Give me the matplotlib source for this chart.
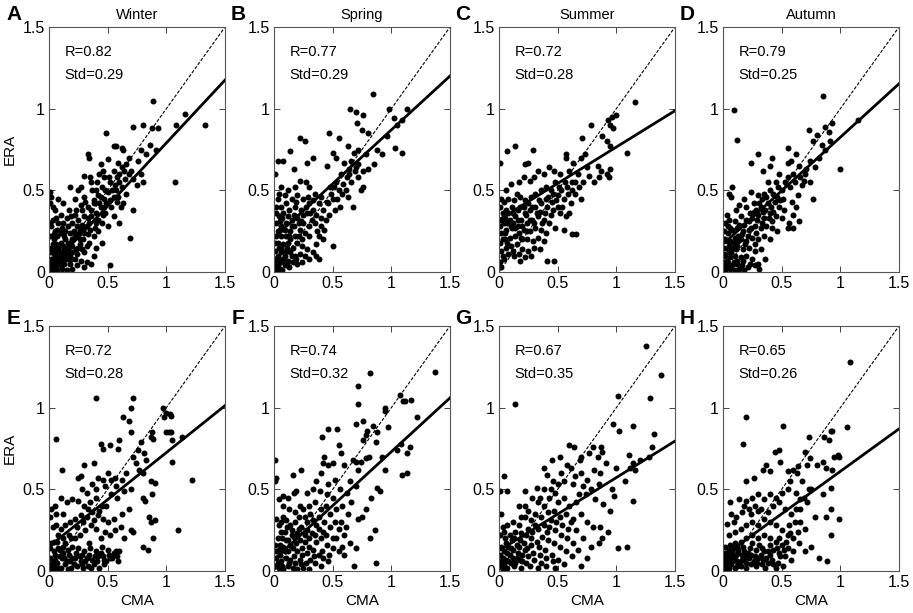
import matplotlib
matplotlib.use('Agg')
import matplotlib.pyplot as plt

plt.rcParams['font.family'] = ['Liberation Sans', 'DejaVu Sans']

# panel letters, titles, stats
letters = ['A', 'B', 'C', 'D', 'E', 'F', 'G', 'H']
seasons = ['Winter', 'Spring', 'Summer', 'Autumn']
r_vals = [0.82, 0.77, 0.72, 0.79, 0.72, 0.74, 0.67, 0.65]
std_vals = [0.29, 0.29, 0.28, 0.25, 0.28, 0.32, 0.35, 0.26]
# fitted line: intercept, slope
fit_b = [0.02, 0.21, 0.32, 0.17, 0.15, 0.07, 0.125, 0.09]
fit_k = [0.77, 0.66, 0.445, 0.655, 0.575, 0.66, 0.447, 0.52]

# (CMA, ERA) pairs
winter_top = [(1.33,0.90),(1.16,0.97),(1.08,0.90),(1.07,0.55),(0.89,1.05),(0.93,0.88),(0.88,0.88),(0.80,0.90),(0.72,0.89),(0.49,0.85),
    (0.55,0.77),(0.57,0.77),(0.62,0.76),(0.63,0.75),(0.33,0.72),(0.34,0.70),(0.78,0.75),(0.86,0.78),(0.91,0.75),(0.83,0.72),
    (0.76,0.68),(0.68,0.70),(0.66,0.66),(0.59,0.67),(0.62,0.64),(0.50,0.69),(0.44,0.66),(0.46,0.62),(0.55,0.62),(0.58,0.58),
    (0.60,0.60),(0.70,0.62),(0.72,0.57),(0.78,0.60),(0.75,0.53),(0.80,0.55),(0.72,0.38),(0.69,0.21),(0.52,0.045),(0.66,0.48),
    (0.63,0.42),(0.57,0.50),(0.52,0.55),(0.50,0.49),(0.47,0.45),(0.45,0.52),(0.42,0.47),(0.40,0.50),(0.38,0.44),(0.36,0.55),
    (0.35,0.58),(0.30,0.59),(0.27,0.52),(0.25,0.50),(0.18,0.52),(0.22,0.45),(0.30,0.46),(0.33,0.40),(0.36,0.38),(0.40,0.36),
    (0.44,0.40),(0.48,0.36),(0.55,0.34),(0.60,0.30),(0.50,0.28),(0.45,0.30),(0.42,0.25),(0.38,0.22),(0.34,0.30),(0.30,0.34),
    (0.28,0.38),(0.25,0.32),(0.22,0.35),(0.20,0.30),(0.17,0.38),(0.15,0.33),(0.12,0.30),(0.10,0.35),(0.08,0.30),(0.06,0.33),
    (0.03,0.32),(0.01,0.49),(0.02,0.46),(0.01,0.42),(0.03,0.40),(0.05,0.38),(0.02,0.28),(0.01,0.22),(0.04,0.20),(0.07,0.22),
    (0.10,0.24),(0.14,0.25),(0.18,0.24),(0.22,0.22),(0.26,0.20),(0.30,0.24),(0.34,0.18),(0.40,0.15),(0.45,0.18),(0.38,0.10),
    (0.30,0.12),(0.25,0.15),(0.20,0.16),(0.16,0.18),(0.12,0.16),(0.08,0.15),(0.04,0.14),(0.01,0.12),(0.02,0.08),(0.05,0.08),
    (0.08,0.09),(0.11,0.10),(0.14,0.11),(0.18,0.10),(0.22,0.08),(0.27,0.07),(0.32,0.06),(0.36,0.05),(0.30,0.03),(0.24,0.04),
    (0.18,0.05),(0.13,0.05),(0.09,0.04),(0.05,0.03),(0.02,0.02),(0.01,0.05),(0.03,0.01),(0.07,0.01),(0.11,0.02),(0.15,0.01),
    (0.20,0.02),(0.04,0.11),(0.06,0.06),(0.10,0.07),(0.15,0.08),(0.12,0.13),(0.16,0.14),(0.20,0.12),(0.24,0.11),(0.28,0.14),
    (0.32,0.16),(0.26,0.26),(0.28,0.29),(0.32,0.28),(0.36,0.34),(0.40,0.30),(0.43,0.42),(0.47,0.40),(0.52,0.44),(0.55,0.46),
    (0.58,0.43),(0.62,0.52),(0.65,0.57),(0.68,0.60),(0.38,0.42),(0.24,0.28),(0.20,0.20),(0.14,0.20),(0.10,0.18),(0.06,0.17),
    (0.09,0.12),(0.03,0.17),(0.01,0.30),(0.05,0.25),(0.12,0.42),(0.08,0.45),
    (0.05,0.05),(0.07,0.10),(0.09,0.07),(0.13,0.08),(0.17,0.12),(0.19,0.08),(0.23,0.14),(0.26,0.17),(0.29,0.20),(0.33,0.23),
    (0.35,0.26),(0.39,0.27),(0.42,0.32),(0.46,0.35),(0.49,0.42),(0.53,0.40),(0.56,0.53),(0.60,0.55),(0.64,0.62),(0.41,0.55),
    (0.37,0.50),(0.31,0.43),(0.27,0.41),(0.23,0.38),(0.19,0.34),(0.16,0.28),(0.13,0.22),(0.11,0.27),(0.07,0.26),(0.04,0.23),
    (0.02,0.15),(0.06,0.12),(0.03,0.06),(0.14,0.15),(0.18,0.18),(0.21,0.25),(0.25,0.23),(0.29,0.27),(0.33,0.33),(0.44,0.46),
    (0.48,0.50),(0.51,0.58),(0.54,0.50),(0.59,0.46),(0.61,0.40),(0.47,0.58),(0.43,0.60)]

spring_top = [(0.84,1.09),(0.65,1.00),(0.70,0.98),(0.76,0.96),(0.71,0.91),(0.75,0.87),(0.80,0.85),(0.98,1.00),(1.13,1.00),(1.02,0.94),
    (1.09,0.93),(1.05,0.90),(0.96,0.83),(1.03,0.76),(1.09,0.73),(0.22,0.82),(0.26,0.80),(0.47,0.85),(0.55,0.82),(0.14,0.74),
    (0.03,0.68),(0.08,0.68),(0.17,0.63),(0.33,0.70),(0.28,0.67),(0.50,0.73),(0.53,0.70),(0.45,0.65),(0.63,0.77),(0.68,0.73),
    (0.72,0.75),(0.78,0.72),(0.88,0.75),(0.92,0.72),(0.85,0.66),(0.80,0.63),(0.72,0.66),(0.64,0.63),(0.60,0.67),(0.57,0.60),
    (0.66,0.55),(0.72,0.58),(0.76,0.52),(0.74,0.50),(0.63,0.46),(0.67,0.40),(0.55,0.50),(0.53,0.55),(0.48,0.52),(0.50,0.45),
    (0.45,0.43),(0.56,0.40),(0.47,0.35),(0.42,0.38),(0.38,0.42),(0.35,0.48),(0.30,0.52),(0.27,0.55),(0.22,0.56),(0.18,0.52),
    (0.12,0.50),(0.04,0.48),(0.03,0.45),(0.01,0.60),(0.02,0.40),(0.06,0.40),(0.10,0.42),(0.15,0.45),(0.20,0.47),(0.25,0.45),
    (0.30,0.42),(0.33,0.38),(0.28,0.36),(0.23,0.38),(0.18,0.40),(0.13,0.38),(0.08,0.36),(0.04,0.34),(0.02,0.30),(0.06,0.28),
    (0.10,0.30),(0.15,0.32),(0.20,0.33),(0.25,0.30),(0.30,0.28),(0.35,0.30),(0.40,0.28),(0.38,0.22),(0.42,0.20),(0.36,0.17),
    (0.30,0.22),(0.26,0.24),(0.22,0.26),(0.18,0.22),(0.14,0.25),(0.10,0.22),(0.06,0.22),(0.02,0.22),(0.01,0.18),(0.04,0.15),
    (0.08,0.17),(0.12,0.18),(0.16,0.15),(0.20,0.18),(0.24,0.16),(0.28,0.14),(0.33,0.12),(0.36,0.10),(0.38,0.08),(0.50,0.16),
    (0.30,0.08),(0.26,0.10),(0.22,0.11),(0.18,0.10),(0.14,0.12),(0.10,0.13),(0.06,0.12),(0.03,0.10),(0.01,0.08),(0.02,0.05),
    (0.05,0.06),(0.08,0.08),(0.12,0.07),(0.16,0.06),(0.20,0.05),(0.24,0.06),(0.13,0.03),(0.09,0.04),(0.05,0.02),(0.02,0.01),
    (0.01,0.03),(0.07,0.01),(0.03,0.25),(0.05,0.31),(0.09,0.26),(0.12,0.34),(0.17,0.28),(0.21,0.30),(0.14,0.20),(0.44,0.32),
    (0.52,0.38),(0.58,0.48),(0.62,0.58),(0.69,0.62),(0.40,0.46),(0.36,0.35),(0.32,0.32),
    (0.03,0.04),(0.04,0.08),(0.06,0.15),(0.03,0.18),(0.05,0.26),(0.07,0.33),(0.09,0.10),(0.11,0.15),(0.13,0.22),(0.15,0.28),
    (0.17,0.35),(0.19,0.43),(0.21,0.22),(0.23,0.31),(0.25,0.35),(0.27,0.40),(0.29,0.46),(0.31,0.36),(0.33,0.44),(0.37,0.25),
    (0.40,0.33),(0.43,0.26),(0.46,0.42),(0.49,0.48),(0.51,0.52),(0.54,0.45),(0.59,0.54),(0.61,0.50),(0.64,0.60),(0.66,0.68),
    (0.70,0.64),(0.76,0.62),(0.19,0.08),(0.15,0.10),(0.11,0.05),(0.07,0.07),(0.24,0.20),(0.02,0.36),(0.01,0.13),(0.09,0.47),
    (0.06,0.52)]

summer_top = [(1.16,1.04),(0.96,0.95),(1.00,0.96),(0.93,0.93),(0.95,0.90),(0.97,0.88),(0.78,0.90),(0.71,0.82),(0.88,0.83),(0.92,0.80),
    (0.95,0.77),(1.09,0.73),(0.14,0.77),(0.29,0.75),(0.07,0.74),(0.01,0.67),(0.25,0.67),(0.22,0.66),(0.57,0.72),(0.57,0.70),
    (0.63,0.67),(0.70,0.70),(0.73,0.72),(0.75,0.64),(0.84,0.65),(0.87,0.62),(0.92,0.60),(0.95,0.63),(0.94,0.58),(0.81,0.55),
    (0.85,0.58),(0.77,0.59),(0.67,0.60),(0.62,0.55),(0.58,0.52),(0.60,0.62),(0.52,0.60),(0.47,0.62),(0.43,0.64),(0.38,0.60),
    (0.33,0.62),(0.30,0.58),(0.26,0.56),(0.21,0.58),(0.17,0.55),(0.10,0.54),(0.65,0.48),(0.70,0.45),(0.61,0.42),(0.55,0.45),
    (0.50,0.47),(0.44,0.50),(0.40,0.52),(0.36,0.50),(0.31,0.48),(0.27,0.46),(0.22,0.44),(0.18,0.46),(0.13,0.44),(0.08,0.45),
    (0.04,0.43),(0.01,0.40),(0.03,0.36),(0.06,0.38),(0.11,0.40),(0.16,0.38),(0.21,0.40),(0.26,0.38),(0.31,0.40),(0.36,0.42),
    (0.41,0.40),(0.46,0.38),(0.52,0.36),(0.57,0.34),(0.60,0.36),(0.62,0.23),(0.66,0.23),(0.55,0.26),(0.48,0.27),(0.47,0.07),
    (0.41,0.07),(0.43,0.30),(0.38,0.32),(0.33,0.34),(0.28,0.32),(0.24,0.30),(0.19,0.32),(0.14,0.34),(0.09,0.32),(0.04,0.30),
    (0.01,0.28),(0.02,0.24),(0.06,0.26),(0.11,0.27),(0.16,0.28),(0.21,0.26),(0.26,0.25),(0.31,0.27),(0.36,0.26),(0.40,0.24),
    (0.38,0.19),(0.33,0.21),(0.29,0.19),(0.24,0.20),(0.19,0.21),(0.14,0.22),(0.09,0.21),(0.05,0.20),(0.01,0.18),(0.02,0.13),
    (0.06,0.15),(0.10,0.16),(0.15,0.17),(0.20,0.14),(0.25,0.13),(0.30,0.15),(0.35,0.14),(0.27,0.10),(0.22,0.09),(0.18,0.07),
    (0.13,0.10),(0.08,0.11),(0.04,0.08),(0.01,0.06),(0.02,0.03),(0.05,0.33),(0.12,0.30),(0.17,0.24),(0.23,0.35),(0.35,0.37),
    (0.45,0.43),(0.50,0.40),(0.53,0.50),(0.48,0.55),(0.40,0.45),(0.25,0.42),
    (0.02,0.32),(0.03,0.20),(0.05,0.24),(0.07,0.30),(0.08,0.36),(0.10,0.28),(0.12,0.36),(0.14,0.27),(0.16,0.32),(0.18,0.40),
    (0.20,0.28),(0.22,0.36),(0.24,0.25),(0.26,0.32),(0.28,0.40),(0.30,0.30),(0.32,0.36),(0.34,0.44),(0.37,0.30),(0.39,0.36),
    (0.42,0.46),(0.44,0.35),(0.46,0.48),(0.49,0.44),(0.51,0.52),(0.54,0.40),(0.56,0.55),(0.59,0.48),(0.62,0.50),(0.65,0.55),
    (0.68,0.52),(0.72,0.55),(0.07,0.18),(0.12,0.13),(0.17,0.11),(0.20,0.20),(0.03,0.10),(0.15,0.48),(0.06,0.50),(0.02,0.45)]

autumn_top = [(0.85,1.08),(0.09,0.99),(0.12,0.81),(1.15,0.93),(1.00,0.63),(0.73,0.87),(0.87,0.89),(0.93,0.91),(0.90,0.86),(0.80,0.84),
    (0.77,0.80),(0.84,0.78),(0.91,0.80),(0.87,0.75),(0.82,0.70),(0.78,0.64),(0.74,0.68),(0.65,0.65),(0.55,0.76),(0.62,0.72),
    (0.42,0.70),(0.30,0.72),(0.24,0.67),(0.34,0.62),(0.40,0.65),(0.55,0.67),(0.58,0.68),(0.48,0.60),(0.55,0.58),(0.60,0.60),
    (0.70,0.60),(0.74,0.55),(0.67,0.53),(0.64,0.47),(0.77,0.45),(0.62,0.40),(0.60,0.35),(0.56,0.30),(0.60,0.27),(0.65,0.31),
    (0.55,0.27),(0.50,0.50),(0.45,0.55),(0.40,0.50),(0.35,0.48),(0.30,0.47),(0.24,0.49),(0.18,0.45),(0.08,0.52),(0.05,0.48),
    (0.07,0.46),(0.14,0.41),(0.20,0.40),(0.26,0.42),(0.32,0.40),(0.38,0.42),(0.44,0.43),(0.48,0.40),(0.52,0.38),(0.45,0.34),
    (0.40,0.36),(0.35,0.33),(0.30,0.35),(0.25,0.33),(0.20,0.32),(0.15,0.34),(0.10,0.31),(0.05,0.32),(0.02,0.30),(0.01,0.25),
    (0.04,0.24),(0.08,0.26),(0.12,0.27),(0.17,0.25),(0.22,0.26),(0.27,0.28),(0.32,0.27),(0.37,0.28),(0.42,0.27),(0.46,0.25),
    (0.40,0.20),(0.35,0.22),(0.30,0.20),(0.25,0.21),(0.20,0.19),(0.15,0.20),(0.10,0.21),(0.06,0.19),(0.02,0.20),(0.01,0.15),
    (0.04,0.14),(0.08,0.15),(0.12,0.16),(0.17,0.14),(0.22,0.15),(0.27,0.13),(0.32,0.14),(0.36,0.08),(0.30,0.05),(0.25,0.08),
    (0.20,0.10),(0.15,0.09),(0.10,0.10),(0.06,0.09),(0.02,0.10),(0.01,0.06),(0.04,0.05),(0.08,0.04),(0.12,0.05),(0.16,0.04),
    (0.21,0.03),(0.27,0.04),(0.31,0.02),(0.02,0.01),(0.06,0.02),(0.10,0.01),(0.14,0.02),(0.18,0.01),(0.03,0.03),(0.05,0.12),
    (0.09,0.18),(0.13,0.22),(0.18,0.29),(0.23,0.36),(0.28,0.38),(0.33,0.45),(0.38,0.55),(0.43,0.48),(0.36,0.38),(0.42,0.31),
    (0.50,0.33),(0.27,0.17),(0.11,0.38),(0.03,0.35),
    (0.02,0.03),(0.03,0.07),(0.05,0.16),(0.03,0.19),(0.06,0.27),(0.07,0.12),(0.09,0.06),(0.11,0.14),(0.13,0.19),(0.14,0.29),
    (0.16,0.23),(0.19,0.17),(0.21,0.22),(0.22,0.31),(0.24,0.27),(0.26,0.37),(0.28,0.24),(0.29,0.32),(0.31,0.42),(0.33,0.30),
    (0.34,0.37),(0.37,0.46),(0.39,0.33),(0.41,0.40),(0.43,0.37),(0.46,0.46),(0.47,0.52),(0.49,0.44),(0.51,0.45),(0.53,0.55),
    (0.57,0.52),(0.59,0.43),(0.61,0.55),(0.66,0.58),(0.69,0.56),(0.71,0.63),(0.12,0.07),(0.17,0.07),(0.23,0.05),(0.01,0.11),
    (0.01,0.20),(0.04,0.28)]

winter_bot = [(0.40,1.06),(0.72,1.06),(0.70,1.00),(0.63,0.94),(0.68,0.92),(0.97,1.00),(1.00,0.97),(1.03,0.96),(1.04,0.95),(0.98,0.94),
    (1.02,0.85),(1.00,0.85),(1.04,0.85),(0.70,0.85),(0.88,0.85),(0.87,0.82),(0.89,0.81),(1.05,0.80),(1.13,0.82),(0.78,0.79),
    (1.05,0.67),(1.22,0.56),(1.10,0.25),(0.06,0.81),(0.11,0.62),(0.44,0.78),(0.52,0.77),(0.60,0.80),(0.59,0.75),(0.46,0.75),
    (0.38,0.66),(0.30,0.65),(0.72,0.70),(0.76,0.74),(0.81,0.72),(0.83,0.68),(0.77,0.62),(0.80,0.60),(0.74,0.66),(0.66,0.60),
    (0.62,0.56),(0.56,0.57),(0.50,0.60),(0.46,0.56),(0.42,0.57),(0.37,0.53),(0.27,0.58),(0.25,0.57),(0.28,0.50),(0.32,0.48),
    (0.40,0.50),(0.48,0.52),(0.53,0.47),(0.57,0.52),(0.64,0.49),(0.70,0.50),(0.80,0.45),(0.82,0.43),(0.87,0.55),(0.90,0.54),
    (0.88,0.47),(0.85,0.33),(0.87,0.30),(0.90,0.31),(0.84,0.13),(0.80,0.15),(0.89,0.20),(0.70,0.25),(0.72,0.24),(0.64,0.20),
    (0.61,0.27),(0.56,0.25),(0.52,0.22),(0.50,0.30),(0.55,0.32),(0.62,0.35),(0.68,0.38),(0.45,0.40),(0.40,0.45),(0.35,0.42),
    (0.30,0.40),(0.25,0.43),(0.20,0.44),(0.15,0.42),(0.10,0.45),(0.05,0.40),(0.02,0.38),(0.01,0.33),(0.03,0.27),(0.06,0.28),
    (0.10,0.26),(0.14,0.28),(0.18,0.30),(0.22,0.32),(0.27,0.34),(0.32,0.33),(0.37,0.36),(0.42,0.34),(0.46,0.32),(0.40,0.26),
    (0.36,0.28),(0.31,0.25),(0.26,0.22),(0.22,0.20),(0.17,0.22),(0.12,0.20),(0.07,0.18),(0.02,0.17),(0.01,0.14),(0.04,0.12),
    (0.08,0.14),(0.12,0.15),(0.16,0.13),(0.20,0.15),(0.25,0.14),(0.30,0.12),(0.35,0.14),(0.40,0.12),(0.45,0.15),(0.50,0.13),
    (0.55,0.11),(0.58,0.09),(0.60,0.12),(0.52,0.08),(0.47,0.07),(0.42,0.09),(0.37,0.07),(0.32,0.08),(0.27,0.06),(0.22,0.08),
    (0.18,0.06),(0.13,0.08),(0.09,0.09),(0.05,0.07),(0.01,0.08),(0.02,0.04),(0.06,0.03),(0.10,0.02),(0.14,0.04),(0.19,0.02),
    (0.24,0.03),(0.29,0.02),(0.33,0.03),(0.38,0.04),(0.43,0.02),(0.47,0.04),(0.03,0.01),(0.01,0.02),(0.08,0.01),(0.16,0.01),
    (0.28,0.10),(0.34,0.17),(0.44,0.20),(0.48,0.24),
    (0.03,0.06),(0.05,0.10),(0.07,0.05),(0.09,0.13),(0.11,0.08),(0.12,0.11),(0.15,0.06),(0.17,0.10),(0.20,0.08),(0.21,0.04),
    (0.23,0.11),(0.26,0.09),(0.28,0.04),(0.31,0.06),(0.34,0.10),(0.36,0.02),(0.39,0.09),(0.41,0.06),(0.44,0.11),(0.46,0.09),
    (0.49,0.06),(0.51,0.10),(0.54,0.08),(0.57,0.12),(0.59,0.06),(0.04,0.18),(0.08,0.22),(0.14,0.17),(0.19,0.20),(0.24,0.27),
    (0.29,0.30),(0.33,0.38),(0.38,0.31),(0.43,0.37),(0.49,0.40),(0.53,0.56),(0.58,0.45),(0.06,0.35),(0.12,0.35)]

spring_bot = [(1.37,1.22),(0.82,1.21),(0.72,1.13),(1.07,1.08),(1.10,1.04),(1.12,1.04),(1.17,1.05),(0.72,1.02),(0.95,1.00),(0.95,0.98),
    (0.97,0.88),(1.22,0.94),(0.76,0.92),(0.70,0.90),(0.79,0.86),(0.84,0.89),(0.88,0.85),(0.78,0.83),(0.76,0.80),(0.87,0.79),
    (0.54,0.87),(0.46,0.87),(0.41,0.82),(0.55,0.77),(0.57,0.72),(0.43,0.70),(0.50,0.66),(0.46,0.65),(0.42,0.66),(0.60,0.65),
    (0.67,0.68),(0.70,0.67),(0.74,0.67),(0.72,0.62),(0.78,0.69),(0.81,0.70),(0.92,0.70),(1.08,0.78),(1.13,0.72),(1.16,0.76),
    (1.05,0.74),(1.13,0.60),(1.09,0.59),(0.95,0.62),(0.01,0.68),(0.02,0.57),(0.01,0.55),(0.08,0.46),(0.16,0.59),(0.23,0.62),
    (0.19,0.49),(0.17,0.48),(0.28,0.48),(0.33,0.50),(0.36,0.55),(0.40,0.60),(0.46,0.53),(0.52,0.56),(0.56,0.50),(0.62,0.48),
    (0.65,0.55),(0.70,0.52),(0.88,0.51),(0.90,0.49),(0.83,0.45),(0.78,0.38),(0.72,0.32),(0.75,0.33),(0.82,0.20),(0.86,0.25),
    (0.87,0.05),(0.68,0.03),(0.70,0.14),(0.65,0.17),(0.60,0.22),(0.55,0.26),(0.52,0.30),(0.48,0.35),(0.44,0.40),(0.40,0.38),
    (0.35,0.42),(0.30,0.40),(0.25,0.38),(0.22,0.40),(0.18,0.36),(0.13,0.38),(0.08,0.40),(0.04,0.44),(0.02,0.32),(0.06,0.30),
    (0.10,0.31),(0.14,0.28),(0.18,0.30),(0.23,0.27),(0.28,0.30),(0.33,0.31),(0.38,0.33),(0.43,0.30),(0.48,0.27),(0.53,0.20),
    (0.58,0.15),(0.60,0.10),(0.55,0.12),(0.50,0.14),(0.45,0.16),(0.40,0.20),(0.35,0.22),(0.30,0.20),(0.26,0.22),(0.22,0.19),
    (0.17,0.21),(0.12,0.19),(0.07,0.20),(0.03,0.20),(0.01,0.16),(0.04,0.13),(0.08,0.15),(0.12,0.12),(0.16,0.14),(0.20,0.12),
    (0.24,0.14),(0.28,0.11),(0.33,0.13),(0.38,0.10),(0.42,0.08),(0.46,0.06),(0.40,0.03),(0.35,0.05),(0.31,0.07),(0.27,0.05),
    (0.22,0.07),(0.18,0.05),(0.14,0.07),(0.10,0.08),(0.06,0.06),(0.02,0.08),(0.01,0.03),(0.04,0.02),(0.08,0.01),(0.12,0.03),
    (0.16,0.02),(0.20,0.01),(0.25,0.02),(0.30,0.01),(0.05,0.10),(0.09,0.24),(0.15,0.25),(0.20,0.23),(0.26,0.33),(0.36,0.28),
    (0.42,0.24),(0.50,0.45),(0.58,0.40),(0.63,0.35),(0.66,0.42),
    (0.02,0.12),(0.03,0.05),(0.05,0.16),(0.06,0.24),(0.07,0.03),(0.09,0.12),(0.10,0.19),(0.11,0.27),(0.13,0.05),(0.14,0.16),
    (0.15,0.22),(0.17,0.09),(0.19,0.17),(0.21,0.26),(0.23,0.04),(0.24,0.10),(0.26,0.18),(0.28,0.25),(0.30,0.15),(0.32,0.23),
    (0.34,0.09),(0.36,0.18),(0.38,0.26),(0.41,0.12),(0.44,0.22),(0.47,0.10),(0.50,0.20),(0.53,0.38),(0.57,0.30),(0.61,0.27),
    (0.45,0.47),(0.39,0.49),(0.31,0.35),(0.21,0.33),(0.04,0.28),(0.08,0.33),(0.12,0.45)]

summer_bot = [(1.25,1.38),(1.38,1.20),(0.14,1.02),(1.01,1.07),(1.29,1.06),(0.97,0.90),(1.02,0.86),(1.14,0.89),(1.32,0.84),(1.30,0.76),
    (0.60,0.77),(0.64,0.76),(0.80,0.76),(0.87,0.76),(0.88,0.73),(0.84,0.70),(0.77,0.72),(0.70,0.70),(0.52,0.70),(0.45,0.68),
    (0.38,0.63),(0.41,0.59),(0.58,0.65),(0.61,0.63),(0.69,0.68),(0.91,0.66),(1.00,0.63),(1.11,0.71),(1.12,0.63),(1.07,0.55),
    (1.14,0.66),(1.16,0.62),(1.28,0.70),(1.20,0.68),(1.14,0.43),(0.96,0.50),(0.98,0.46),(0.86,0.60),(0.75,0.56),(0.70,0.60),
    (0.65,0.58),(0.78,0.50),(0.74,0.47),(0.82,0.44),(0.89,0.41),(0.95,0.37),(0.63,0.53),(0.55,0.55),(0.50,0.53),(0.48,0.48),
    (0.44,0.50),(0.38,0.50),(0.32,0.51),(0.22,0.49),(0.04,0.58),(0.01,0.49),(0.07,0.49),(0.17,0.40),(0.22,0.40),(0.28,0.45),
    (0.33,0.42),(0.38,0.40),(0.43,0.45),(0.50,0.42),(0.55,0.45),(0.60,0.40),(0.66,0.42),(0.70,0.35),(0.75,0.30),(0.80,0.27),
    (0.86,0.27),(0.93,0.24),(0.88,0.20),(0.85,0.17),(1.01,0.14),(1.09,0.15),(0.70,0.03),(0.75,0.08),(0.78,0.15),(0.72,0.20),
    (0.66,0.25),(0.61,0.30),(0.57,0.35),(0.52,0.33),(0.47,0.37),(0.42,0.36),(0.36,0.33),(0.31,0.35),(0.27,0.31),(0.22,0.33),
    (0.17,0.28),(0.12,0.30),(0.07,0.28),(0.03,0.27),(0.01,0.22),(0.05,0.20),(0.09,0.22),(0.13,0.20),(0.18,0.19),(0.23,0.22),
    (0.28,0.24),(0.33,0.26),(0.38,0.28),(0.43,0.27),(0.48,0.25),(0.53,0.22),(0.58,0.20),(0.63,0.17),(0.67,0.13),(0.62,0.09),
    (0.57,0.12),(0.52,0.15),(0.47,0.17),(0.42,0.19),(0.37,0.21),(0.32,0.18),(0.27,0.16),(0.22,0.13),(0.17,0.15),(0.12,0.13),
    (0.08,0.15),(0.04,0.12),(0.01,0.10),(0.02,0.06),(0.06,0.07),(0.10,0.05),(0.15,0.08),(0.20,0.06),(0.25,0.09),(0.30,0.07),
    (0.35,0.10),(0.40,0.08),(0.45,0.10),(0.50,0.07),(0.55,0.04),(0.48,0.02),(0.40,0.03),(0.33,0.02),(0.26,0.03),(0.19,0.02),
    (0.13,0.03),(0.07,0.02),(0.03,0.01),(0.01,0.03),(0.04,0.04),(0.09,0.10),(0.14,0.24),(0.19,0.33),(0.25,0.37),(0.35,0.45),
    (0.46,0.55),(0.53,0.60),
    (0.02,0.15),(0.03,0.08),(0.05,0.02),(0.06,0.17),(0.07,0.11),(0.08,0.06),(0.10,0.14),(0.11,0.19),(0.12,0.08),(0.14,0.05),
    (0.15,0.16),(0.16,0.11),(0.18,0.07),(0.19,0.23),(0.20,0.10),(0.21,0.17),(0.23,0.05),(0.24,0.14),(0.25,0.26),(0.27,0.20),
    (0.29,0.11),(0.31,0.28),(0.34,0.15),(0.36,0.05),(0.39,0.13),(0.41,0.24),(0.44,0.31),(0.46,0.06),(0.49,0.30),(0.54,0.28),
    (0.59,0.26),(0.63,0.32),(0.68,0.47),(0.72,0.52),(0.81,0.62),(0.85,0.53),(0.04,0.24),(0.02,0.35)]

autumn_bot = [(1.08,1.28),(0.20,0.94),(0.51,0.89),(1.06,0.88),(0.17,0.78),(0.73,0.82),(0.86,0.82),(0.92,0.86),(0.93,0.86),(0.90,0.80),
    (0.48,0.74),(0.44,0.73),(0.70,0.73),(0.74,0.69),(0.98,0.71),(0.99,0.70),(0.95,0.70),(0.85,0.67),(0.88,0.63),(0.93,0.62),
    (0.80,0.65),(0.72,0.65),(0.64,0.64),(0.55,0.61),(0.60,0.62),(0.49,0.67),(0.37,0.65),(0.34,0.62),(0.40,0.61),(0.26,0.57),
    (0.20,0.55),(0.57,0.55),(0.63,0.60),(0.67,0.55),(0.73,0.50),(0.75,0.50),(0.92,0.51),(0.85,0.47),(0.72,0.42),(0.66,0.44),
    (0.62,0.48),(0.55,0.50),(0.50,0.48),(0.45,0.45),(0.40,0.47),(0.35,0.44),(0.30,0.47),(0.25,0.45),(0.20,0.43),(0.14,0.44),
    (0.06,0.42),(0.03,0.29),(0.07,0.35),(0.11,0.33),(0.16,0.36),(0.22,0.38),(0.27,0.40),(0.32,0.38),(0.38,0.36),(0.43,0.40),
    (0.48,0.42),(0.53,0.38),(0.58,0.35),(0.62,0.38),(0.66,0.30),(0.70,0.26),(0.78,0.33),(0.88,0.33),(0.92,0.38),(0.99,0.32),
    (0.92,0.22),(0.89,0.06),(0.82,0.08),(0.75,0.15),(0.70,0.12),(0.65,0.17),(0.60,0.20),(0.55,0.22),(0.50,0.25),(0.45,0.28),
    (0.40,0.30),(0.35,0.32),(0.30,0.28),(0.25,0.30),(0.20,0.28),(0.15,0.26),(0.10,0.24),(0.05,0.22),(0.02,0.15),(0.06,0.16),
    (0.10,0.17),(0.15,0.18),(0.20,0.20),(0.25,0.22),(0.30,0.20),(0.35,0.22),(0.40,0.20),(0.45,0.18),(0.50,0.16),(0.55,0.14),
    (0.60,0.12),(0.58,0.07),(0.53,0.09),(0.48,0.11),(0.43,0.13),(0.38,0.12),(0.33,0.14),(0.28,0.13),(0.23,0.14),(0.18,0.12),
    (0.13,0.11),(0.08,0.12),(0.04,0.10),(0.01,0.08),(0.02,0.05),(0.06,0.06),(0.10,0.07),(0.14,0.05),(0.18,0.07),(0.22,0.08),
    (0.26,0.06),(0.30,0.08),(0.34,0.07),(0.38,0.05),(0.42,0.07),(0.47,0.05),(0.51,0.03),(0.45,0.02),(0.36,0.02),(0.28,0.03),
    (0.20,0.02),(0.12,0.03),(0.05,0.02),(0.01,0.02),(0.03,0.04),(0.08,0.09),(0.12,0.15),(0.16,0.10),(0.24,0.10),(0.32,0.10),
    (0.40,0.16),(0.48,0.20),(0.56,0.28),(0.64,0.24),
    (0.02,0.11),(0.03,0.07),(0.04,0.01),(0.05,0.13),(0.06,0.09),(0.07,0.04),(0.08,0.06),(0.09,0.14),(0.10,0.02),(0.11,0.10),
    (0.12,0.06),(0.13,0.13),(0.15,0.03),(0.16,0.07),(0.17,0.15),(0.19,0.09),(0.20,0.05),(0.21,0.11),(0.24,0.04),(0.25,0.17),
    (0.27,0.09),(0.29,0.05),(0.31,0.16),(0.33,0.04),(0.35,0.12),(0.37,0.08),(0.40,0.10),(0.43,0.04),(0.46,0.14),(0.49,0.09),
    (0.52,0.13),(0.54,0.18),(0.57,0.23),(0.61,0.30),(0.66,0.38),(0.69,0.45),(0.30,0.37),(0.24,0.35),(0.18,0.40),(0.09,0.30)]

panels = [winter_top, spring_top, summer_top, autumn_top,
          winter_bot, spring_bot, summer_bot, autumn_bot]

W, H = 913, 613
fig = plt.figure(figsize=(W / 100, H / 100), dpi=100, facecolor='white')

col_left = [49, 274, 499, 723]
row_top = [27, 326]
ax_w, ax_h = 176, 245
letter_x = [14, 238, 463, 687]
letter_y = [14, 318]

ticks = [0, 0.5, 1, 1.5]
tick_lbl = ['0', '0.5', '1', '1.5']

for i, pts in enumerate(panels):
    row, col = divmod(i, 4)
    left = col_left[col] / W
    bottom = 1 - (row_top[row] + ax_h) / H
    ax = fig.add_axes([left, bottom, ax_w / W, ax_h / H])

    xs = [p[0] for p in pts]
    ys = [p[1] for p in pts]
    ax.plot(xs, ys, 'o', color='black', markersize=4.3, markeredgewidth=0)

    ax.plot([0, 1.5], [0, 1.5], '--', color='black', lw=0.8, dashes=(3, 1.5))
    ax.plot([0, 1.5], [fit_b[i], fit_b[i] + fit_k[i] * 1.5], '-', color='black', lw=2)

    ax.set_xlim(0, 1.5)
    ax.set_ylim(0, 1.5)
    ax.set_xticks(ticks)
    ax.set_yticks(ticks)
    ax.set_xticklabels(tick_lbl)
    ax.set_yticklabels(tick_lbl)
    ax.tick_params(direction='in', top=True, right=True, length=4, width=0.7,
                   labelsize=11.5, color='#444444', pad=3)
    for s in ax.spines.values():
        s.set_color('#555555')
        s.set_linewidth(0.8)

    ax.text(0.135, 1.345, 'R=%.2f' % r_vals[i], fontsize=10.5, va='center')
    ax.text(0.135, 1.205, 'Std=%.2f' % std_vals[i], fontsize=10.5, va='center')

    if row == 0:
        ax.set_title(seasons[col], fontsize=10.5, pad=6)
    if col == 0:
        ax.set_ylabel('ERA', fontsize=11, labelpad=4)
    if row == 1:
        ax.set_xlabel('CMA', fontsize=11, labelpad=3)

    fig.text(letter_x[col] / W, 1 - letter_y[row] / H, letters[i],
             fontsize=15, fontweight='bold', ha='center', va='center')

fig.savefig('out.png', dpi=100, facecolor='white')
